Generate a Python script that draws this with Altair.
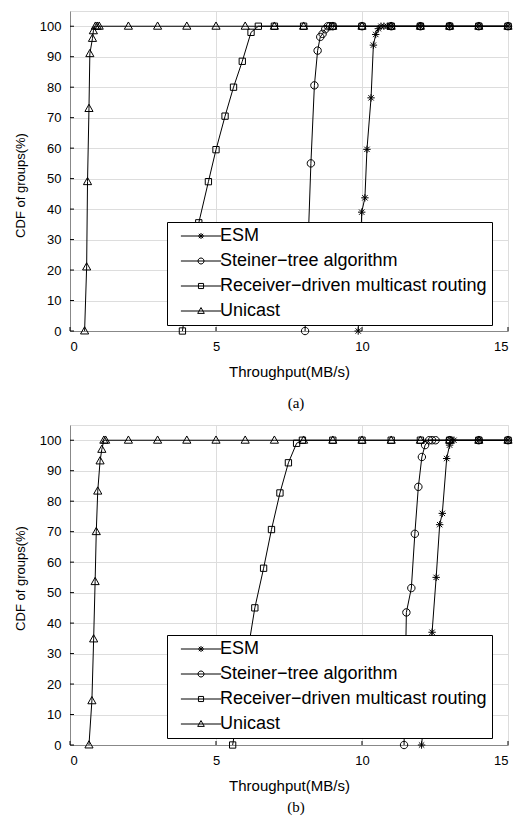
import altair as alt
import pandas as pd

series_names = ["ESM", "Steiner−tree algorithm", "Receiver−driven multicast routing", "Unicast"]

# ---- panel (a) ----
a_esm_x = [9.87, 9.99, 10.1, 10.17, 10.31, 10.39, 10.47, 10.56, 10.65, 10.75, 10.87, 11, 12, 13, 14, 15]
a_esm_y = [0, 39, 43.7, 59.6, 76.5, 93.8, 97.3, 99.2, 100, 100, 100, 100, 100, 100, 100, 100]
a_st_x = [8.05, 8.25, 8.37, 8.48, 8.57, 8.65, 8.74, 8.83, 8.9, 9, 10, 11, 12, 13, 14, 15]
a_st_y = [0, 55, 80.6, 92, 96.5, 97.5, 99, 100, 100, 100, 100, 100, 100, 100, 100, 100]
a_rd_x = [3.85, 4.41, 4.74, 5.0, 5.31, 5.6, 5.9, 6.2, 6.45, 7, 8, 9, 10, 11, 12, 13, 14, 15]
a_rd_y = [0, 35.5, 49, 59.5, 70.5, 80, 88.5, 98, 100, 100, 100, 100, 100, 100, 100, 100, 100, 100]
a_uc_x = [0.5, 0.57, 0.6, 0.65, 0.68, 0.77, 0.8, 0.87, 0.93, 1.0, 2, 3, 4, 5, 6, 7, 8, 9, 10, 11, 12, 13, 14, 15]
a_uc_y = [0, 21, 49, 73, 91, 96, 98.5, 100, 100, 100, 100, 100, 100, 100, 100, 100, 100, 100, 100, 100, 100, 100, 100, 100]

# ---- panel (b) ----
b_esm_x = [12.04, 12.4, 12.54, 12.66, 12.75, 12.9, 13.0, 13.05, 13.15, 14, 15]
b_esm_y = [0, 37, 55, 72.3, 76, 94, 98.4, 100, 100, 100, 100]
b_st_x = [11.44, 11.52, 11.69, 11.81, 11.93, 12.05, 12.16, 12.3, 12.4, 12.52, 13, 14, 15]
b_st_y = [0, 43.5, 51.5, 69.3, 84.7, 94.5, 98.4, 100, 100, 100, 100, 100, 100]
b_rd_x = [5.57, 6.33, 6.63, 6.9, 7.19, 7.48, 7.76, 7.96, 9, 10, 11, 12, 13, 14, 15]
b_rd_y = [0, 45, 58, 70.7, 82.7, 92.6, 99, 100, 100, 100, 100, 100, 100, 100, 100]
b_uc_x = [0.65, 0.75, 0.81, 0.86, 0.9, 0.95, 1.03, 1.09, 1.16, 1.22, 2, 3, 4, 5, 6, 7, 8, 9, 10, 11, 12, 13, 14, 15]
b_uc_y = [0, 14.5, 34.8, 53.6, 70, 83.3, 93.2, 97, 100, 100, 100, 100, 100, 100, 100, 100, 100, 100, 100, 100, 100, 100, 100, 100]

x_ticks = [0, 5, 10, 15]
y_ticks = [0, 10, 20, 30, 40, 50, 60, 70, 80, 90, 100]

W, H = 438, 320

star = "M0,-1V1M-1,0H1M-0.72,-0.72L0.72,0.72M-0.72,0.72L0.72,-0.72"
circ = "M1,0A1,1,0,1,1,-1,0A1,1,0,1,1,1,0Z"
sq = "M-0.85,-0.85H0.85V0.85H-0.85Z"
tri = "M0,-1.15L1.1,0.8L-1.1,0.8Z"
marker_paths = [star, circ, sq, tri]
L = "M-6.7,0H6.7"
legend_paths = [L + star, L + circ, L + sq, L + tri]


def make_df(pairs):
    rows = []
    for name, xs, ys in pairs:
        for xv, yv in zip(xs, ys):
            rows.append({"series": name, "x": xv, "y": yv})
    return pd.DataFrame(rows)


xscale = alt.Scale(domain=[0, 15], nice=False)
yscale = alt.Scale(domain=[0, 105], nice=False)


def panel(df, caption, legend_y, cap_offset, title_y):
    xaxis = alt.Axis(values=x_ticks, ticks=False, tickSize=0, labelPadding=9,
                     title="Throughput(MB/s)", titleFontSize=15, titlePadding=11,
                     titleFontWeight="normal", labelFontSize=13, labelOverlap=False)
    yaxis = alt.Axis(values=y_ticks, ticks=False, tickSize=0, labelPadding=9,
                     title="CDF of groups(%)", titleFontSize=13, titlePadding=12,
                     titleFontWeight="normal", titleY=title_y, labelFontSize=13,
                     labelOverlap=False)
    xenc = alt.X("x:Q", scale=xscale, axis=xaxis)
    yenc = alt.Y("y:Q", scale=yscale, axis=yaxis)
    base = alt.Chart(df)
    lines = base.mark_line(color="black", strokeWidth=1).encode(x=xenc, y=yenc, detail="series:N")
    pts = base.mark_point(filled=False, color="black", size=55, strokeWidth=1, opacity=1).encode(
        x=xenc, y=yenc,
        shape=alt.Shape("series:N", scale=alt.Scale(domain=series_names, range=marker_paths), legend=None))
    leg = base.mark_point(filled=False, color="black", size=36, strokeWidth=1, opacity=1).encode(
        x=xenc, y=yenc,
        shape=alt.Shape("series:N", scale=alt.Scale(domain=series_names, range=legend_paths),
                        legend=alt.Legend(title=None, orient="none", legendX=97, legendY=legend_y,
                                          strokeColor="black", fillColor="white", padding=5,
                                          labelFont="Liberation Sans", labelFontSize=18,
                                          labelColor="black", labelLimit=500,
                                          labelExpr="datum.label + '\u00a0\u00a0\u00a0'",
                                          symbolSize=36, symbolOffset=20, labelOffset=10,
                                          rowPadding=7, symbolStrokeWidth=1,
                                          symbolStrokeColor="black", symbolFillColor="transparent"))
    ).transform_filter("false")
    xt = alt.Chart(pd.DataFrame({"x": x_ticks})).mark_rule(color="black").encode(
        x=xenc, y=alt.value(H), y2=alt.value(H - 4))
    yt = alt.Chart(pd.DataFrame({"y": y_ticks})).mark_rule(color="black").encode(
        y=yenc, x=alt.value(0), x2=alt.value(4))
    ch = alt.layer(lines, pts, leg, xt, yt).resolve_scale(shape="independent").properties(
        width=W, height=H,
        title=alt.TitleParams(caption, orient="bottom", font="Liberation Serif", fontSize=15,
                              fontWeight="normal", offset=cap_offset, anchor="middle", dx=7,
                              color="black"))
    return ch


df_a = make_df([(series_names[0], a_esm_x, a_esm_y), (series_names[1], a_st_x, a_st_y),
                (series_names[2], a_rd_x, a_rd_y), (series_names[3], a_uc_x, a_uc_y)])
df_b = make_df([(series_names[0], b_esm_x, b_esm_y), (series_names[1], b_st_x, b_st_y),
                (series_names[2], b_rd_x, b_rd_y), (series_names[3], b_uc_x, b_uc_y)])

top = panel(df_a, "(a)", 211, 17, 174)
bot = panel(df_b, "(b)", 210, 7, 153)

chart = alt.vconcat(top, bot, spacing=12).resolve_scale(shape="independent").resolve_legend(
    shape="independent").properties(
    padding={"left": 13, "top": 10, "right": 0, "bottom": 0}
).configure_view(stroke=None).configure_axis(
    grid=False, domainColor="black", domainWidth=1, labelColor="black", titleColor="black",
    labelFont="Liberation Sans", titleFont="Liberation Sans", titleFontWeight="normal"
).configure(background="white")

chart.save("out.html", embed_options={"renderer": "svg", "actions": False})
